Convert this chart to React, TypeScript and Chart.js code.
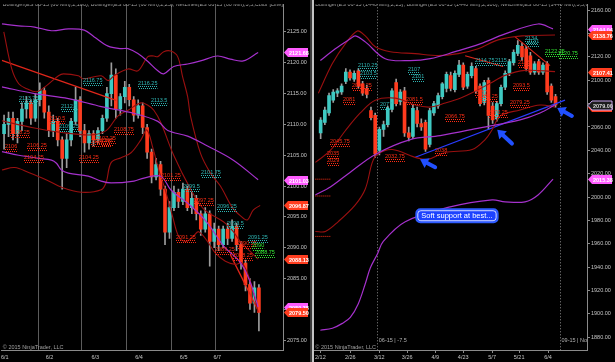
import React, { useEffect, useRef } from "react";
import { Chart, registerables } from "chart.js";
Chart.register(...registerables);

const FONT = '"Liberation Sans", Arial, sans-serif';
const UP = "#3fc9c2";
const DOWN = "#ff3b1e";
const WICK = "#9c9c9c";
const LBL_TEAL = "#2fb6b4";
const LBL_RED = "#ff2d14";
const LBL_GREEN = "#33e833";
const PURPLE = "#a531cc";
const DARKRED = "#9a1010";
const TREND_RED = "#e0261a";
const BLUE = "#2150ff";
const PINK_TAG = "#ff5cff";
const RED_TAG = "#ff3d1f";

// ================= LEFT PANEL : ES 06-15 (60 Min) =================
const titleL = "Bollinger(ES 06-15 (60 Min),2,100), Bollinger(ES 06-15 (60 Min),2,25), NetLines(ES 06-15 (60 Min),3,5,Color [Line],Color [";
const openL = [2108.5, 2110, 2111, 2108.5, 2110.5, 2112.5, 2113.5, 2111, 2114, 2115.5, 2112, 2109, 2110.5, 2107.5, 2104.5, 2107.5, 2110.5, 2114, 2109, 2107, 2108.5, 2107.5, 2109, 2111, 2115, 2118, 2112.5, 2114.5, 2116, 2114, 2111.5, 2113, 2109.5, 2105.5, 2101.5, 2103.5, 2099.5, 2092.5, 2096.5, 2099, 2097.5, 2099.5, 2096.5, 2098, 2095.5, 2093, 2095.5, 2091, 2093, 2090.5, 2093, 2091.5, 2093.5, 2090.5, 2087.5, 2084, 2081, 2083.5];
const highL = [2111.5, 2112, 2112, 2111, 2113.5, 2114.5, 2114, 2115, 2116.75, 2116, 2113, 2111.5, 2111, 2108, 2108.5, 2111, 2116, 2114.5, 2110, 2109, 2109, 2109.5, 2111.5, 2116, 2120, 2119, 2115, 2117, 2116.5, 2114.5, 2114, 2113.5, 2110, 2106, 2104.5, 2104, 2100, 2097.5, 2100, 2099.5, 2100.5, 2100, 2099, 2098.5, 2096, 2096.5, 2096, 2094, 2093.5, 2093.5, 2094, 2094.5, 2094, 2091, 2088, 2085, 2084.5, 2084];
const lowL = [2106, 2108, 2107.5, 2107, 2109, 2111, 2110, 2110.5, 2113, 2111, 2108, 2108, 2106.5, 2099.5, 2103, 2106.5, 2110, 2108, 2105.5, 2106, 2106.5, 2107, 2108.5, 2110.5, 2113, 2111, 2111.5, 2113.5, 2113, 2110.5, 2111, 2108.5, 2104.5, 2100.5, 2101, 2098.5, 2090.5, 2091.5, 2096, 2096.5, 2097, 2096, 2095.5, 2094.5, 2092, 2092.5, 2087, 2090, 2089.5, 2090, 2090.5, 2091, 2089.5, 2086.5, 2083, 2080, 2079.5, 2076.5];
const closeL = [2110, 2111, 2108.5, 2110.5, 2112.5, 2113.5, 2111, 2114, 2115.5, 2112, 2109, 2110.5, 2107.5, 2104.5, 2107.5, 2110.5, 2114, 2109, 2107, 2108.5, 2107.5, 2109, 2111, 2115, 2118, 2112.5, 2114.5, 2116, 2114, 2111.5, 2113, 2109.5, 2105.5, 2101.5, 2103.5, 2099.5, 2092.5, 2096.5, 2099, 2097.5, 2099.5, 2096.5, 2098, 2095.5, 2093, 2095.5, 2091, 2093, 2090.5, 2093, 2091.5, 2093.5, 2090.5, 2087.5, 2084, 2081, 2083.5, 2079.5];

const purpUpperL: [number, number][] = [[0, 2126.3], [3.78, 2126.0], [7.33, 2125.8], [11.11, 2125.2], [14.89, 2125.5], [18.44, 2125.3], [20.67, 2124.2], [23.78, 2122.7], [26.67, 2122.3], [28.22, 2122.3], [30.44, 2121.5], [32.67, 2120.2], [34.89, 2118.7], [36.22, 2118.2], [38.44, 2119.4], [41.56, 2119.8], [44.44, 2120.3], [48.22, 2121.1], [51.11, 2120.6], [54.0, 2120.3], [57.33, 2121.68]];
const purpMidL: [number, number][] = [[0, 2116.1], [7.33, 2115.0], [14.89, 2114.2], [22.22, 2112.9], [29.56, 2111.8], [34.89, 2110.5], [37.11, 2109.0], [41.56, 2108.1], [46.0, 2106.5], [51.78, 2104.2], [57.33, 2101.03]];
const purpLowerL: [number, number][] = [[0, 2105.6], [3.78, 2105.0], [8.22, 2104.5], [11.11, 2104.2], [12.22, 2103.7], [13.33, 2102.6], [14.89, 2102.1], [19.33, 2101.6], [22.22, 2100.8], [24.44, 2100.5], [29.56, 2100.8], [31.78, 2101.3], [35.56, 2101.6], [37.78, 2099.4], [42.22, 2096.8], [46.0, 2094.0], [49.56, 2090.3], [53.33, 2087.6], [55.56, 2084.4], [57.33, 2080.38]];
const redUpperL: [number, number][] = [[0.44, 2125.0], [2.22, 2119.0], [3.78, 2116.6], [5.56, 2115.8], [7.78, 2115.3], [10.0, 2116.3], [12.67, 2117.9], [13.78, 2118.2], [17.11, 2117.9], [18.22, 2117.4], [22.22, 2117.9], [23.78, 2117.1], [25.11, 2117.9], [28.22, 2119.0], [30.44, 2118.7], [32.67, 2121.0], [34.0, 2121.1], [34.89, 2121.0], [36.22, 2121.8], [37.78, 2121.9], [39.33, 2121.0], [40.44, 2117.7], [41.56, 2114.5], [42.22, 2111.3], [44.44, 2105.3], [46.67, 2102.1], [48.89, 2100.0], [51.56, 2096.5], [53.33, 2095.2], [54.89, 2094.5], [56.22, 2096.1], [57.78, 2096.87]];
const redMidL: [number, number][] = [[0, 2110.6], [6.67, 2109.5], [13.33, 2108.7], [20.0, 2108.3], [23.33, 2109.0], [26.0, 2111.4], [28.22, 2112.3], [31.11, 2113.5], [32.67, 2113.1], [34.0, 2112.3], [35.56, 2110.3], [38.44, 2105.0], [42.22, 2099.5], [45.11, 2096.3], [49.56, 2094.2], [51.78, 2092.6], [53.33, 2091.0], [55.56, 2089.4], [57.33, 2088.13]];
const redLowerL: [number, number][] = [[0, 2102.6], [2.89, 2103.0], [6.0, 2102.2], [10.0, 2101.0], [13.33, 2099.8], [17.78, 2099.0], [22.22, 2099.4], [23.33, 2100.6], [24.44, 2103.8], [26.67, 2104.6], [28.89, 2105.4], [31.11, 2107.5], [32.44, 2109.1], [33.78, 2106.2], [35.11, 2102.6], [36.67, 2099.1], [38.22, 2095.0], [39.56, 2091.8], [41.11, 2091.0], [42.67, 2091.7], [44.0, 2092.6], [46.0, 2091.0], [47.78, 2089.1], [50.0, 2087.8], [52.22, 2087.3], [53.78, 2087.5], [55.56, 2084.6], [57.33, 2079.5]];
const trendL1: [number, number][] = [[0, 2120.4], [25.56, 2113.9]];
const trendL2: [number, number][] = [[51.1, 2088.9], [57.33, 2079.8]];

const daySepL = [8, 17.78, 27.78, 37.78, 47.78];
const xTickPosL = [0.67, 10.67, 20.9, 30.67, 40.67, 48.2];
const xTickLabL = ["6/1", "6/2", "6/3", "6/4", "6/5", "6/7"];
const yTicksL = [2075, 2080, 2085, 2090, 2095, 2100, 2105, 2110, 2115, 2120, 2125];

const tealLabelsL: [string, number][] = [["2113.75", 3.78], ["2116.75", 18.22], ["2112.5", 13.33], ["2109.25", 12.89], ["2116.25", 30.44], ["2113.5", 33.33], ["2101.75", 44.44], ["2099.5", 40.44], ["2096.25", 48.22], ["2093.5", 50.44], ["2091.25", 55.11]];
const greenLabelsL: [string, number][] = [["2090", 56.0], ["2088.75", 56.67]];
const redLabelsL: [string, number][] = [["2110.5", 10.44], ["2108.25", 1.78], ["2106", 0.67], ["2106.25", 5.56], ["2104.25", 4.89], ["2104.25", 17.33], ["2108.75", 25.11], ["2107.25", 21.11], ["2107", 22.22], ["2106.75", 20.0], ["2101.25", 35.56], ["2097.25", 42.89], ["2091.25", 38.89], ["2089.25", 47.78], ["2088.25", 51.78], ["2090.25", 52.67]];
const tagsL: [number, string][] = [[2121.68, "pink"], [2101.03, "pink"], [2096.87, "red"], [2088.13, "red"], [2080.38, "pink"], [2079.5, "red"]];

// ================= RIGHT PANEL : ES 06-15 (1440 Min) =================
const titleR = "Bollinger(ES 06-15 (1440 Min),2,25), Bollinger(ES 06-15 (1440 Min),2,100), NetLines(ES 06-15 (1440 Min),3,5,Color [";
const openR = [2055, 2064, 2072, 2083, 2089, 2090, 2099, 2107, 2101, 2108, 2097, 2093, 2074, 2070, 2040, 2058, 2062, 2075, 2098, 2082, 2091, 2055, 2052, 2074, 2063, 2064, 2045, 2072, 2078, 2086, 2093, 2104, 2092, 2105, 2113, 2095, 2104, 2110, 2095, 2081, 2100, 2078, 2067, 2080, 2094, 2106, 2115, 2123, 2129, 2127, 2121, 2107, 2116, 2107, 2114, 2095, 2086];
const highR = [2068, 2077, 2089, 2092, 2093, 2097, 2110, 2109, 2108, 2110, 2099, 2096, 2077, 2072, 2060, 2065, 2078, 2093, 2101, 2092, 2094, 2060, 2079, 2077, 2067, 2066, 2076, 2082, 2089, 2098, 2107, 2107, 2108, 2117, 2115, 2107, 2115, 2112, 2097, 2100, 2102, 2081, 2082, 2096, 2108, 2118, 2126, 2134, 2132, 2129, 2124, 2116, 2118, 2115, 2116, 2097, 2088];
const lowR = [2050, 2062, 2070, 2081, 2086, 2088, 2097, 2100, 2099, 2093, 2087, 2085, 2066, 2034, 2036, 2052, 2060, 2073, 2078, 2079, 2052, 2048, 2050, 2060, 2057, 2039, 2043, 2070, 2076, 2084, 2090, 2091, 2090, 2103, 2092, 2093, 2102, 2089, 2078, 2079, 2058, 2063, 2065, 2078, 2092, 2104, 2113, 2121, 2117, 2108, 2105, 2105, 2105, 2105, 2088, 2081, 2077];
const closeR = [2066, 2074.5, 2087, 2090, 2091, 2095, 2107, 2102, 2106, 2095, 2089, 2088, 2068, 2037, 2058, 2062, 2076, 2091, 2080, 2090, 2055, 2051, 2076, 2063, 2060, 2041, 2074, 2080, 2087, 2097, 2105, 2093, 2106, 2113, 2094, 2105, 2112, 2091, 2080, 2098, 2070, 2066, 2080, 2094, 2106, 2116, 2124, 2130, 2120, 2110, 2107, 2114, 2107, 2113, 2090, 2083, 2079];

const redUpperR: [number, number][] = [[0.95, 2088.9], [4.29, 2114.3], [7.38, 2131.2], [10.24, 2142.2], [12.14, 2138.0], [14.52, 2128.7], [18.1, 2124.5], [24.05, 2122.8], [29.52, 2121.1], [34.29, 2122.8], [39.05, 2127.0], [43.81, 2134.6], [49.52, 2138.0], [57.38, 2138.76]];
const redMidR: [number, number][] = [[0.24, 2029.7], [3.81, 2039.9], [7.38, 2056.8], [10.95, 2072.0], [14.52, 2083.0], [19.29, 2084.7], [24.05, 2078.8], [27.62, 2077.1], [31.19, 2080.5], [34.76, 2084.7], [38.33, 2090.6], [41.9, 2097.4], [45.48, 2104.2], [50.24, 2108.5], [57.38, 2107.41]];
const redLowerR: [number, number][] = [[0.24, 1970.5], [2.62, 1970.5], [5.71, 1979.0], [9.76, 1993.3], [12.14, 2006.9], [13.81, 2029.7], [15.0, 2036.5], [18.57, 2040.7], [24.05, 2034.0], [27.14, 2032.3], [31.19, 2038.2], [37.62, 2040.7], [40.71, 2049.2], [42.38, 2057.6], [44.29, 2069.5], [49.05, 2074.6], [53.81, 2078.8], [57.38, 2077.1]];
const purpUpperR: [number, number][] = [[1.43, 2116.9], [5.0, 2127.0], [8.57, 2135.5], [9.76, 2138.0], [12.14, 2132.9], [16.9, 2118.5], [22.86, 2116.9], [27.62, 2118.5], [33.57, 2124.5], [39.52, 2131.2], [45.48, 2139.7], [53.33, 2148.2], [56.9, 2144.04]];
const purpMidR: [number, number][] = [[0.24, 2001.8], [3.81, 2008.6], [8.57, 2021.3], [14.52, 2036.5], [22.86, 2049.2], [30.0, 2052.6], [39.52, 2059.3], [49.05, 2066.1], [53.81, 2072.0], [57.38, 2079.0]];
const purpLowerR: [number, number][] = [[1.43, 1885.9], [4.29, 1887.6], [6.67, 1891.8], [8.57, 1896.9], [10.48, 1908.7], [12.14, 1925.7], [13.33, 1939.2], [15.0, 1951.0], [16.43, 1962.0], [21.67, 1978.9], [32.38, 1991.6], [42.38, 1997.6], [45.48, 1995.9], [50.24, 1995.9], [53.33, 2001.8], [56.9, 2015.38]];
const blueTrendR: [number, number][] = [[24.05, 2034.0], [59.76, 2083.0]];
const redTrendR1: [number, number][] = [[47.86, 2137.2], [56.19, 2112.6]];
const redTrendR2: [number, number][] = [[35.95, 2121.0], [45.0, 2111.8]];
const stubLevelsR = [2015.3, 2000.9, 1966.3];
const stubSpanR: [number, number] = [0.24, 3.8];

const sessionLinesR: [number, string][] = [[15.0, "06-15 | -7.5"], [58.57, "09-15 | Nov"]];
const xTickPosR = [1.43, 8.57, 15.48, 22.14, 28.81, 35.48, 42.38, 48.81, 55.71];
const xTickLabR = ["2/12", "2/26", "3/12", "3/26", "4/9", "4/23", "5/7", "5/21", "6/4"];
const yTicksR = [1880, 1900, 1920, 1940, 1960, 1980, 2000, 2020, 2040, 2060, 2080, 2100, 2120, 2140, 2160];

const tealLabelsR: [string, number][] = [["2110.25", 10.48], ["2103.5", 10.95], ["2107", 22.38], ["2101", 23.33], ["2077", 15.71], ["2114.75", 38.33], ["2115", 43.1], ["2134", 50.24], ["2131", 50.71]];
const redLabelsR: [string, number][] = [["2093.25", 9.05], ["2081", 6.9], ["2045.75", 3.81], ["2035", 3.1], ["2029", 3.1], ["2032.75", 16.9], ["2081.5", 21.9], ["2038", 28.8], ["2066.75", 31.2], ["2087", 38.33], ["2084.25", 39.05], ["2070.25", 41.43], ["2079.25", 46.67], ["2093.5", 47.38], ["2113", 48.57]];
const greenLabelsR: [string, number][] = [["2122.25", 55.0], ["2120.75", 58.1]];
const tagsR: [number, string, string][] = [[2144.04, "2144.04", "pink"], [2138.76, "2138.76", "red"], [2107.41, "2107.41", "red"], [2077.1, "2077.25", "red"], [2079.0, "2079.00", "gray"], [2015.38, "2015.38", "pink"]];
const arrowsR: [number, number, number, number][] = [[25.2, 2032.3, 28.8, 2025.5], [43.6, 2057.6, 47.1, 2045.8], [57.9, 2076.2, 61.4, 2069.5]];
const noteR = { text: "Soft support at best...", x: 34.0, y: 1984 };

// ================= helpers =================
function candleSets(o: number[], h: number[], l: number[], c: number[], first: number, bodyW: number) {
  const xs = o.map((_, i) => first + i);
  return [
    {
      type: "bar" as const,
      data: xs.map((x, i) => ({ x, y: [l[i], h[i]] })),
      backgroundColor: WICK,
      barThickness: 1,
      grouped: false,
      order: 6,
    },
    {
      type: "bar" as const,
      data: xs.map((x, i) => ({ x, y: [Math.min(o[i], c[i]), Math.max(o[i], c[i])] })),
      backgroundColor: o.map((v, i) => (c[i] >= v ? UP : DOWN)),
      barThickness: bodyW,
      minBarLength: 1,
      grouped: false,
      order: 5,
    },
  ];
}

function lineSet(pts: [number, number][], color: string, width = 1, tension = 0.35, dash: number[] = []) {
  return {
    type: "line" as const,
    data: pts.map(([x, y]) => ({ x, y })),
    borderColor: color,
    borderWidth: width,
    borderDash: dash,
    pointRadius: 0,
    tension,
    fill: false,
    order: 1,
  };
}

function drawNetLabels(ctx: CanvasRenderingContext2D, chart: any, list: [string, number][], color: string) {
  const xs = chart.scales.x, ys = chart.scales.y;
  ctx.font = `5.5px ${FONT}`;
  ctx.textBaseline = "alphabetic";
  ctx.textAlign = "left";
  for (const [text, xv] of list) {
    const px = Math.round(xs.getPixelForValue(xv));
    const py = Math.round(ys.getPixelForValue(parseFloat(text)));
    ctx.fillStyle = color;
    ctx.fillText(text, px, py - 1.5);
    const w = ctx.measureText(text).width;
    ctx.strokeStyle = color;
    ctx.lineWidth = 1;
    ctx.setLineDash([1, 1]);
    ctx.beginPath();
    ctx.moveTo(px, py + 0.5);
    ctx.lineTo(px + w, py + 0.5);
    ctx.moveTo(px + 1, py + 2.5);
    ctx.lineTo(px + w, py + 2.5);
    ctx.stroke();
    ctx.setLineDash([]);
  }
}

function drawTag(ctx: CanvasRenderingContext2D, chart: any, value: number, text: string, kind: string) {
  const y = Math.round(chart.scales.y.getPixelForValue(value)) + 0.5;
  const x0 = chart.chartArea.right + 1;
  const w = 24, hh = 4.5;
  ctx.beginPath();
  ctx.moveTo(x0, y);
  ctx.lineTo(x0 + 4, y - hh);
  ctx.lineTo(x0 + w, y - hh);
  ctx.lineTo(x0 + w, y + hh);
  ctx.lineTo(x0 + 4, y + hh);
  ctx.closePath();
  ctx.fillStyle = kind === "pink" ? PINK_TAG : kind === "red" ? RED_TAG : "#1c1c1c";
  ctx.fill();
  if (kind === "gray") {
    ctx.strokeStyle = "#c9a6ee";
    ctx.lineWidth = 1;
    ctx.stroke();
  }
  ctx.fillStyle = kind === "gray" ? "#dcdcdc" : "#ffffff";
  ctx.font = `bold 5.5px ${FONT}`;
  ctx.textBaseline = "middle";
  ctx.textAlign = "left";
  ctx.fillText(text, x0 + 5, y + 0.5);
}

function drawArrow(ctx: CanvasRenderingContext2D, tipX: number, tipY: number, tailX: number, tailY: number) {
  const ang = Math.atan2(tipY - tailY, tipX - tailX);
  const head = 8, hw = 5.5;
  const bx = tipX - head * Math.cos(ang), by = tipY - head * Math.sin(ang);
  ctx.strokeStyle = BLUE;
  ctx.lineWidth = 4;
  ctx.lineCap = "round";
  ctx.beginPath();
  ctx.moveTo(tailX, tailY);
  ctx.lineTo(bx, by);
  ctx.stroke();
  ctx.lineCap = "butt";
  ctx.fillStyle = BLUE;
  ctx.beginPath();
  ctx.moveTo(tipX, tipY);
  ctx.lineTo(bx + hw * Math.sin(ang), by - hw * Math.cos(ang));
  ctx.lineTo(bx - hw * Math.sin(ang), by + hw * Math.cos(ang));
  ctx.closePath();
  ctx.fill();
}

function drawTitleAndCopyright(ctx: CanvasRenderingContext2D, chart: any, title: string) {
  const a = chart.chartArea;
  ctx.save();
  ctx.beginPath();
  ctx.rect(a.left, a.top, a.right - a.left, a.bottom - a.top);
  ctx.clip();
  ctx.font = `5.5px ${FONT}`;
  ctx.textAlign = "left";
  ctx.textBaseline = "top";
  ctx.fillStyle = "#a9a9a9";
  ctx.fillText(title, a.left + 1, 1.5);
  ctx.textBaseline = "alphabetic";
  ctx.fillStyle = "#a0a0a0";
  ctx.fillText("\u00a9 2015 NinjaTrader, LLC", a.left + 1, a.bottom - 1);
  ctx.restore();
}

function scaleOpts(min: number, max: number, ticks: number[], fmt: (v: number, i: number) => string, isX: boolean, tickColor: string) {
  return {
    type: "linear" as const,
    position: isX ? ("bottom" as const) : ("right" as const),
    min,
    max,
    offset: false,
    afterBuildTicks: (s: any) => {
      s.ticks = ticks.map((v) => ({ value: v }));
    },
    afterFit: (s: any) => {
      if (isX) s.height = 12;
      else s.width = isX ? 0 : s.chart.width === 310 ? 27 : 28;
    },
    ticks: {
      autoSkip: false,
      maxRotation: 0,
      padding: 1,
      color: "#c4c4c4",
      font: { size: 5.5, family: FONT },
      callback: (v: any, i: number) => fmt(Number(v), i),
    },
    grid: { display: true, offset: false, drawOnChartArea: false, tickLength: 3, color: tickColor },
    border: { display: true, color: "#8a8a8a" },
  };
}

// ================= configs =================
function leftConfig(): any {
  const plugin = {
    id: "leftDeco",
    beforeDatasetsDraw(chart: any) {
      const { ctx, chartArea: a, scales } = chart;
      ctx.save();
      ctx.strokeStyle = "#5c5c5c";
      ctx.lineWidth = 1;
      for (const d of daySepL) {
        const x = Math.round(scales.x.getPixelForValue(d)) + 0.5;
        ctx.beginPath();
        ctx.moveTo(x, a.top);
        ctx.lineTo(x, a.bottom);
        ctx.stroke();
      }
      ctx.restore();
    },
    afterDatasetsDraw(chart: any) {
      const ctx = chart.ctx;
      ctx.save();
      drawNetLabels(ctx, chart, redLabelsL, LBL_RED);
      drawNetLabels(ctx, chart, tealLabelsL, LBL_TEAL);
      drawNetLabels(ctx, chart, greenLabelsL, LBL_GREEN);
      ctx.restore();
    },
    afterDraw(chart: any) {
      const ctx = chart.ctx;
      ctx.save();
      drawTitleAndCopyright(ctx, chart, titleL);
      for (const [v, kind] of tagsL) drawTag(ctx, chart, v, v.toFixed(2), kind);
      ctx.restore();
    },
  };
  return {
    type: "bar",
    data: {
      datasets: [
        ...candleSets(openL, highL, lowL, closeL, 0.5, 3),
        lineSet(purpUpperL, PURPLE, 1.2),
        lineSet(purpMidL, PURPLE, 1.2),
        lineSet(purpLowerL, PURPLE, 1.2),
        lineSet(redUpperL, DARKRED, 1.1),
        lineSet(redMidL, DARKRED, 1.1),
        lineSet(redLowerL, DARKRED, 1.1),
        lineSet(trendL1, TREND_RED, 1.2, 0),
        lineSet(trendL2, TREND_RED, 1.4, 0),
      ],
    },
    options: {
      animation: false,
      responsive: false,
      maintainAspectRatio: false,
      devicePixelRatio: 1,
      events: [],
      layout: { padding: 0, autoPadding: false },
      plugins: { legend: { display: false }, tooltip: { enabled: false } },
      scales: {
        x: scaleOpts(0, 283 / 4.5, xTickPosL, (_v, i) => xTickLabL[i] ?? "", true, "rgba(0,0,0,0)"),
        y: scaleOpts(2073.4, 2129.49, yTicksL, (v) => v.toFixed(2), false, "#8a8a8a"),
      },
    },
    plugins: [plugin],
  };
}

function rightConfig(): any {
  const plugin = {
    id: "rightDeco",
    beforeDatasetsDraw(chart: any) {
      const { ctx, chartArea: a, scales } = chart;
      ctx.save();
      ctx.strokeStyle = "#8c8c8c";
      ctx.lineWidth = 1;
      ctx.setLineDash([1, 2]);
      for (const [v] of sessionLinesR) {
        const x = Math.round(scales.x.getPixelForValue(v)) + 0.5;
        ctx.beginPath();
        ctx.moveTo(x, a.top);
        ctx.lineTo(x, a.bottom);
        ctx.stroke();
      }
      ctx.setLineDash([]);
      ctx.beginPath();
      ctx.rect(a.left, a.top, a.right - a.left, a.bottom - a.top);
      ctx.clip();
      ctx.font = `5.5px ${FONT}`;
      ctx.fillStyle = "#b0b0b0";
      ctx.textBaseline = "middle";
      ctx.textAlign = "left";
      for (const [v, t] of sessionLinesR) {
        const x = scales.x.getPixelForValue(v) + 1.5;
        ctx.fillText(t, x, a.bottom - 10);
      }
      ctx.restore();
    },
    afterDatasetsDraw(chart: any) {
      const { ctx, scales } = chart;
      ctx.save();
      drawNetLabels(ctx, chart, redLabelsR, LBL_RED);
      drawNetLabels(ctx, chart, tealLabelsR, LBL_TEAL);
      drawNetLabels(ctx, chart, greenLabelsR, LBL_GREEN);
      for (const [tx, ty, ax, ay] of arrowsR) {
        drawArrow(ctx, scales.x.getPixelForValue(tx), scales.y.getPixelForValue(ty), scales.x.getPixelForValue(ax), scales.y.getPixelForValue(ay));
      }
      // note box
      const cx = scales.x.getPixelForValue(noteR.x);
      const cy = scales.y.getPixelForValue(noteR.y);
      ctx.font = `7.5px ${FONT}`;
      const w = ctx.measureText(noteR.text).width + 10;
      const h = 13;
      const x0 = cx - w / 2, y0 = cy - h / 2;
      ctx.beginPath();
      (ctx as any).roundRect(x0, y0, w, h, 4);
      ctx.fillStyle = "#1d42ff";
      ctx.fill();
      ctx.lineWidth = 2;
      ctx.strokeStyle = "#2e5bff";
      ctx.stroke();
      ctx.beginPath();
      (ctx as any).roundRect(x0 + 1.5, y0 + 1.5, w - 3, h - 3, 3);
      ctx.lineWidth = 0.8;
      ctx.strokeStyle = "#ffffff";
      ctx.stroke();
      ctx.fillStyle = "#ffffff";
      ctx.textAlign = "center";
      ctx.textBaseline = "middle";
      ctx.fillText(noteR.text, cx, cy + 0.5);
      ctx.restore();
    },
    afterDraw(chart: any) {
      const ctx = chart.ctx;
      ctx.save();
      drawTitleAndCopyright(ctx, chart, titleR);
      for (const [v, t, kind] of tagsR) drawTag(ctx, chart, v, t, kind);
      ctx.restore();
    },
  };
  return {
    type: "bar",
    data: {
      datasets: [
        ...candleSets(openR, highR, lowR, closeR, 1.5, 3),
        lineSet(purpUpperR, PURPLE, 1.2),
        lineSet(purpMidR, PURPLE, 1.2),
        lineSet(purpLowerR, PURPLE, 1.2),
        lineSet(redUpperR, DARKRED, 1.1),
        lineSet(redMidR, DARKRED, 1.1),
        lineSet(redLowerR, DARKRED, 1.1),
        lineSet(redTrendR1, TREND_RED, 1.1, 0),
        lineSet(redTrendR2, TREND_RED, 1.1, 0),
        lineSet(blueTrendR, "#2a3cff", 1.1, 0),
        ...stubLevelsR.map((lv) => lineSet([[stubSpanR[0], lv], [stubSpanR[1], lv]], LBL_RED, 1, 0, [1, 1])),
      ],
    },
    options: {
      animation: false,
      responsive: false,
      maintainAspectRatio: false,
      devicePixelRatio: 1,
      events: [],
      layout: { padding: 0, autoPadding: false },
      plugins: { legend: { display: false }, tooltip: { enabled: false } },
      scales: {
        x: scaleOpts(0, 273 / 4.2, xTickPosR, (_v, i) => xTickLabR[i] ?? "", true, "#8a8a8a"),
        y: scaleOpts(1869.0, 2165.08, yTicksR, (v) => v.toFixed(2), false, "#8a8a8a"),
      },
    },
    plugins: [plugin],
  };
}

export default function App() {
  const lRef = useRef<HTMLCanvasElement>(null);
  const rRef = useRef<HTMLCanvasElement>(null);
  useEffect(() => {
    const c1 = new Chart(lRef.current as HTMLCanvasElement, leftConfig());
    const c2 = new Chart(rRef.current as HTMLCanvasElement, rightConfig());
    return () => {
      c1.destroy();
      c2.destroy();
    };
  }, []);
  return (
    <div style={{ position: "fixed", left: 0, top: 0, width: 615, height: 362, background: "#000", overflow: "hidden" }}>
      <canvas ref={lRef} width={310} height={362} style={{ position: "absolute", left: 0, top: 0 }} />
      <div style={{ position: "absolute", left: 310, top: 0, width: 2, height: 362, background: "#3a3a3a" }} />
      <div style={{ position: "absolute", left: 312, top: 0, width: 2, height: 362, background: "#c4c4c4" }} />
      <canvas ref={rRef} width={301} height={362} style={{ position: "absolute", left: 314, top: 0 }} />
    </div>
  );
}
